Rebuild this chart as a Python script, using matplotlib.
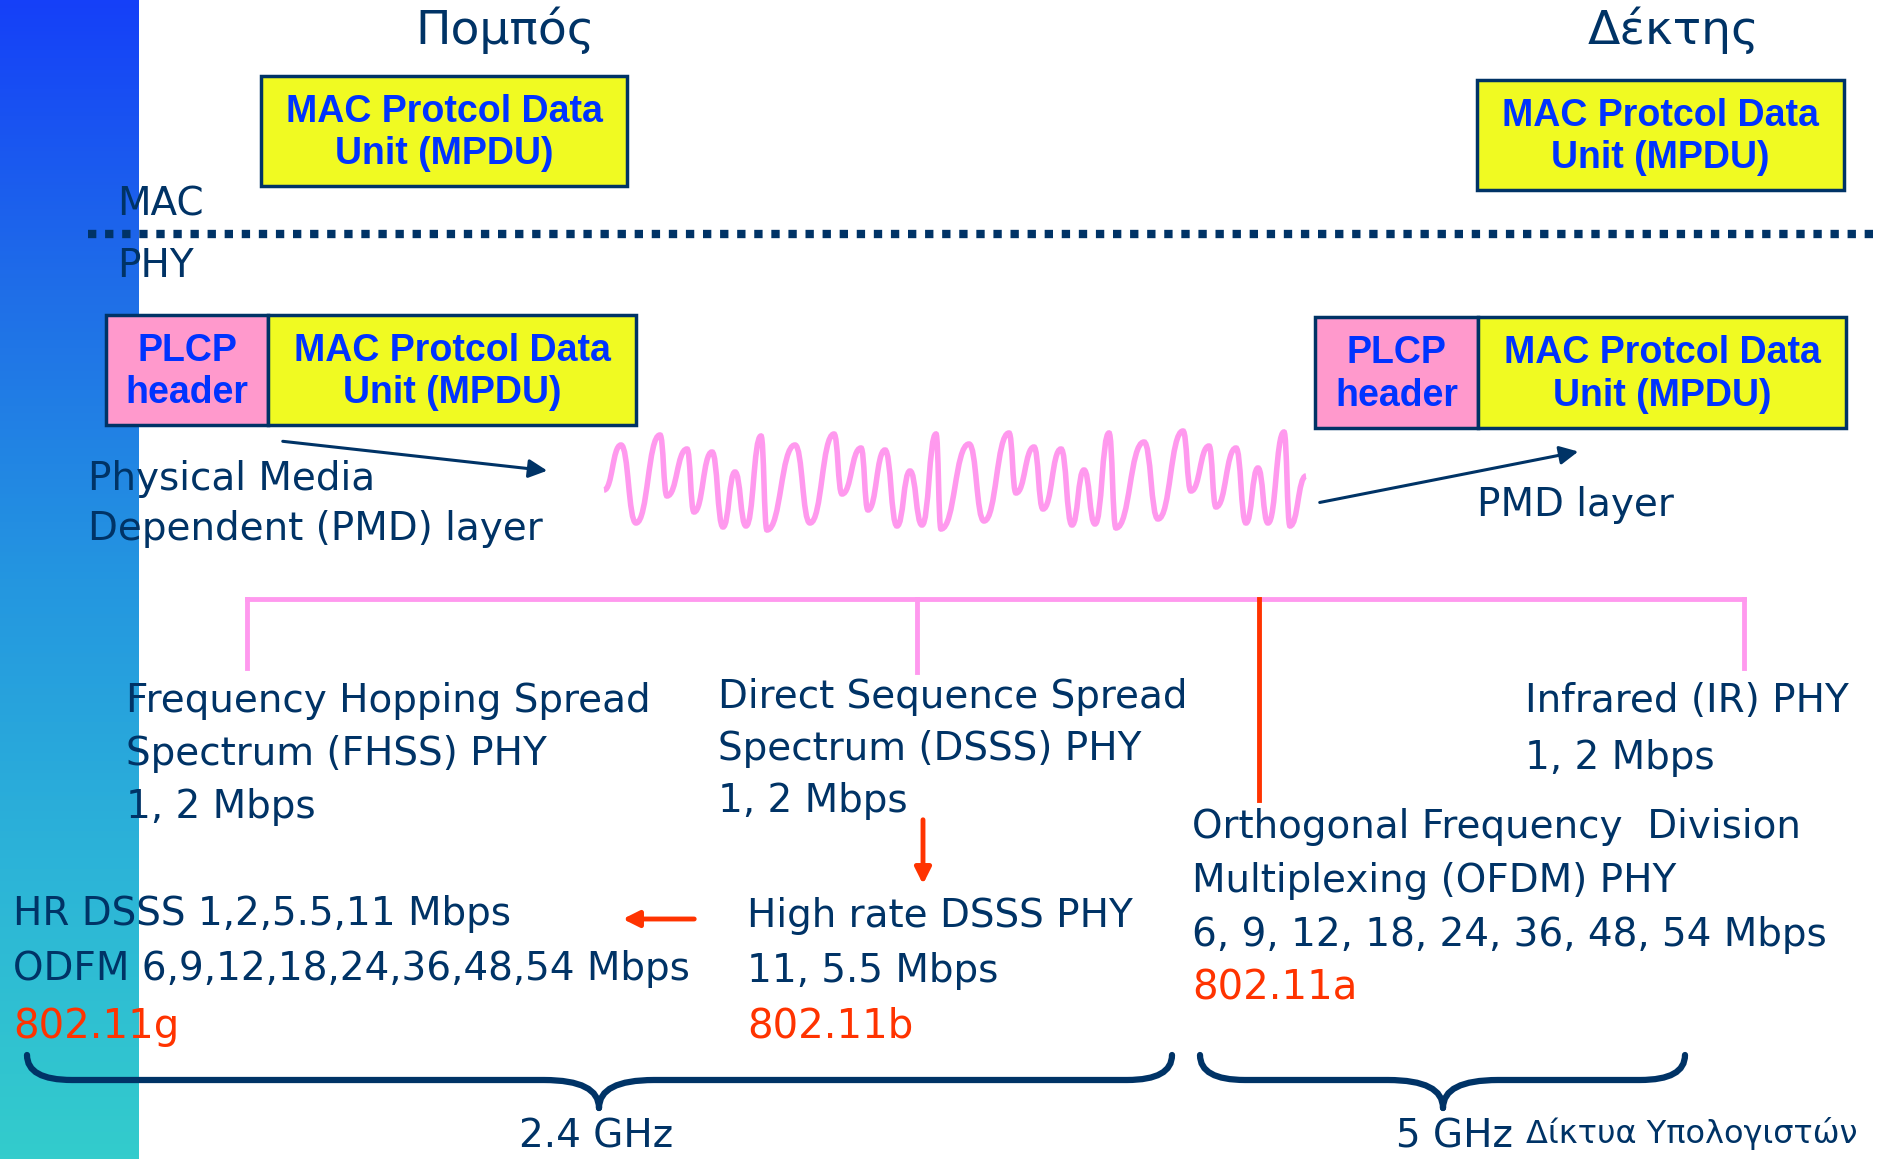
import numpy as np
import matplotlib.pyplot as plt
from matplotlib.path import Path
from matplotlib.patches import PathPatch, Rectangle

# Κείμενα του σχήματος
title_tx = 'Πομπός'
title_rx = 'Δέκτης'
mpdu_label = 'MAC Protcol Data\nUnit (MPDU)'
plcp_label = 'PLCP\nheader'
layer_mac = 'MAC'
layer_phy = 'PHY'
pmd_left = ['Physical Media', 'Dependent (PMD) layer']
pmd_right = 'PMD layer'

fhss_lines = ['Frequency Hopping Spread', 'Spectrum (FHSS) PHY', '1, 2 Mbps']
dsss_lines = ['Direct Sequence Spread', 'Spectrum (DSSS) PHY', '1, 2 Mbps']
ir_lines = ['Infrared (IR) PHY', '1, 2 Mbps']
ofdm_lines = ['Orthogonal Frequency  Division', 'Multiplexing (OFDM) PHY',
              '6, 9, 12, 18, 24, 36, 48, 54 Mbps']
hr_lines = ['High rate DSSS PHY', '11, 5.5 Mbps']
g_lines = ['HR DSSS 1,2,5.5,11 Mbps', 'ODFM 6,9,12,18,24,36,48,54 Mbps']
std_names = ['802.11g', '802.11b', '802.11a']
bands = ['2.4 GHz', '5 GHz']
footer = 'Δίκτυα Υπολογιστών'

# Σήμα (κορυφές / κοιλάδες όπως διαβάζονται από την εικόνα, σε pixel)
wave_x = [604, 621, 636, 660, 667, 687, 694, 712, 723, 735, 746, 761, 767, 795,
          810, 834, 842, 861, 868, 885, 897, 910, 922, 936, 941, 969, 984, 1009,
          1016, 1034, 1043, 1061, 1072, 1084, 1095, 1109, 1116, 1144, 1158, 1183,
          1191, 1209, 1216, 1236, 1246, 1258, 1268, 1284, 1290, 1306]
wave_y = [490, 445, 523, 435, 496, 449, 512, 452, 527, 472, 526, 436, 530, 445,
          523, 434, 494, 448, 510, 450, 526, 471, 525, 434, 529, 444, 521, 433,
          493, 447, 509, 449, 525, 470, 524, 433, 528, 442, 519, 431, 491, 446,
          507, 448, 523, 468, 523, 432, 526, 476]

# Χρώματα της μπάρας αριστερά (πάνω -> κάτω)
bar_colors = ['#1540f8', '#1f6ee8', '#2496e0', '#2cb4d8', '#33cccc']

navy = '#003366'
blue = '#0033ff'
yellow = '#f0fa22'
pink_box = '#ff99cc'
pink_line = '#ff99ee'
red = '#ff3300'
comic = 'DejaVu Sans'
arial = 'Liberation Sans'

fig = plt.figure(figsize=(18.95, 11.59), dpi=100)
ax = fig.add_axes([0, 0, 1, 1])
ax.set_xlim(0, 1895)
ax.set_ylim(1159, 0)
ax.axis('off')

# μπάρα με διαβάθμιση
rgb = np.array([[int(c[i:i + 2], 16) / 255 for i in (1, 3, 5)] for c in bar_colors])
t = np.linspace(0, 1, 300)
pos = np.linspace(0, 1, len(bar_colors))
grad = np.stack([np.interp(t, pos, rgb[:, k]) for k in range(3)], axis=-1)
ax.imshow(grad[:, None, :], extent=(0, 139, 1159, 0), aspect='auto', zorder=0)

# τίτλοι
ax.text(505, 30, title_tx, fontsize=34, color=navy, family=comic, ha='center', va='center')
ax.text(1674, 30, title_rx, fontsize=34, color=navy, family=comic, ha='center', va='center')


def box(x0, x1, y0, y1, face, label):
    ax.add_patch(Rectangle((x0, y0), x1 - x0, y1 - y0, facecolor=face,
                           edgecolor=navy, lw=2.5, zorder=2))
    ax.text((x0 + x1) / 2, (y0 + y1) / 2 + 2, label, fontsize=27, color=blue,
            family=arial, weight='bold', ha='center', va='center',
            linespacing=1.22, zorder=3)


box(261, 627, 76, 186, yellow, mpdu_label)
box(1477, 1844, 80, 190, yellow, mpdu_label)
box(106, 268, 315, 425, pink_box, plcp_label)
box(268, 636, 315, 425, yellow, mpdu_label)
box(1315, 1478, 317, 428, pink_box, plcp_label)
box(1478, 1846, 317, 428, yellow, mpdu_label)

# MAC / PHY
ax.text(117, 205, layer_mac, fontsize=28, color=navy, family=comic, va='center')
ax.text(117, 266, layer_phy, fontsize=28, color=navy, family=comic, va='center')
ax.plot([88, 1873], [234, 234], color=navy, lw=6, linestyle=(0, (1.0, 1.05)),
        solid_capstyle='butt', dash_capstyle='butt')

# PMD
for i, s in enumerate(pmd_left):
    ax.text(88, 479 + i * 50, s, fontsize=28, color=navy, family=comic, va='center')
ax.text(1477, 505, pmd_right, fontsize=28, color=navy, family=comic, va='center')
ax.annotate('', xy=(550, 471), xytext=(280, 441),
            arrowprops=dict(arrowstyle='-|>', color=navy, lw=2.2, mutation_scale=28))
ax.annotate('', xy=(1581, 451), xytext=(1317, 503),
            arrowprops=dict(arrowstyle='-|>', color=navy, lw=2.2, mutation_scale=28))

# κυματομορφή
verts = [(wave_x[0], wave_y[0])]
codes = [Path.MOVETO]
for i in range(len(wave_x) - 1):
    x0, y0, x1, y1 = wave_x[i], wave_y[i], wave_x[i + 1], wave_y[i + 1]
    dx = (x1 - x0) * 0.5
    verts += [(x0 + dx, y0), (x1 - dx, y1), (x1, y1)]
    codes += [Path.CURVE4] * 3
ax.add_patch(PathPatch(Path(verts, codes), facecolor='none', edgecolor=pink_line, lw=4))

# δέντρο PHY
ax.plot([247, 1744], [599, 599], color=pink_line, lw=3.5)
for xv, yb in [(247, 668), (917, 672), (1744, 668)]:
    ax.plot([xv, xv], [599, yb], color=pink_line, lw=3.5)
ax.plot([1259, 1259], [599, 800], color=red, lw=3.5)


def block(x, y, lines, step=52, color=navy, size=28):
    for i, s in enumerate(lines):
        ax.text(x, y + i * step, s, fontsize=size, color=color, family=comic, va='center')


block(126, 701, fhss_lines, step=53)
block(718, 697, dsss_lines, step=52)
block(1525, 701, ir_lines, step=57)
block(1192, 827, ofdm_lines, step=54)
block(13, 914, g_lines, step=55)
block(747, 916, hr_lines, step=55)
block(13, 1027, [std_names[0]], color=red, size=29)
block(747, 1027, [std_names[1]], color=red, size=29)
block(1192, 989, [std_names[2]], color=red, size=29)

ax.annotate('', xy=(923, 887), xytext=(923, 817),
            arrowprops=dict(arrowstyle='-|>', color=red, lw=3.5, mutation_scale=24))
ax.annotate('', xy=(620, 919), xytext=(697, 919),
            arrowprops=dict(arrowstyle='-|>', color=red, lw=3.5, mutation_scale=24))


# άγκιστρα
def brace(x0, x1, xc, ytop, ymid, ytip, r=45, rc=55):
    for xa, sgn in [(x0, 1), (x1, -1)]:
        v = [(xa, ytop), (xa, ymid), (xa + sgn * r, ymid),
             (xc - sgn * rc, ymid), (xc, ymid), (xc, ytip)]
        c = [Path.MOVETO, Path.CURVE3, Path.CURVE3, Path.LINETO, Path.CURVE3, Path.CURVE3]
        ax.add_patch(PathPatch(Path(v, c), facecolor='none', edgecolor=navy, lw=4.5,
                               capstyle='round'))


brace(27, 1172, 599, 1055, 1080, 1108)
brace(1200, 1685, 1443, 1055, 1080, 1108)
ax.text(596, 1136, bands[0], fontsize=28, color=navy, family=comic, ha='center', va='center')
ax.text(1396, 1136, bands[1], fontsize=28, color=navy, family=comic, va='center')
ax.text(1526, 1134, footer, fontsize=23, color=navy, family=comic, va='center')

fig.savefig('out.png', dpi=100)
